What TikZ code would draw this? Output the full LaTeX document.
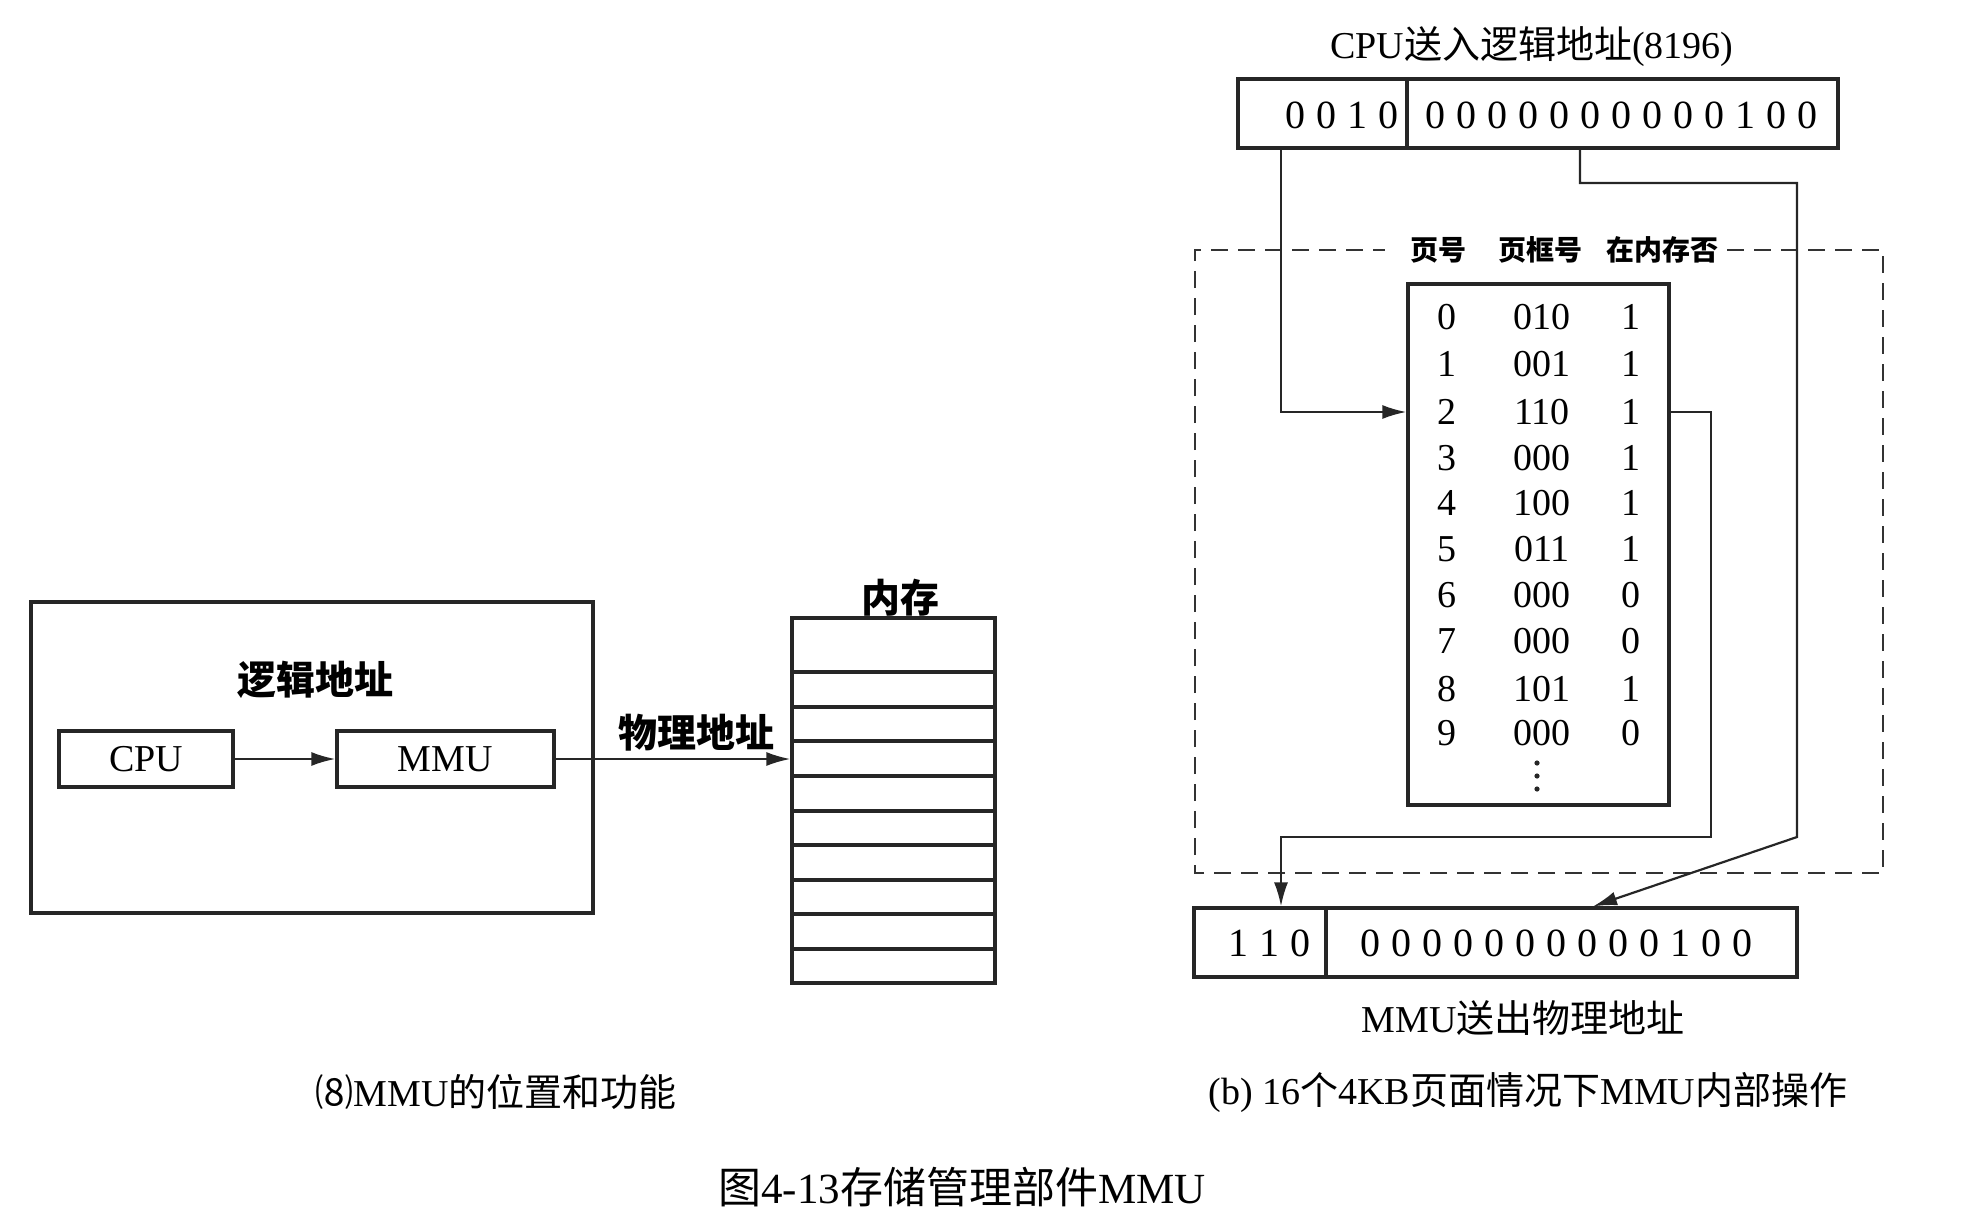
\documentclass[tikz,border=0pt]{standalone}
\usepackage{fontspec}
\setmainfont{Liberation Serif}
\newfontfamily\cjk{Noto Sans CJK SC}
\usetikzlibrary{arrows.meta}

\begin{document}
\begin{tikzpicture}[x=0.5pt,y=-0.5pt,
  box/.style={draw=black!85, line width=1.6pt, inner sep=0pt},
  conn/.style={draw=black!85, line width=1.1pt},
  arr/.style={conn, -{Latex[length=12pt,width=7pt]}},
  dashbox/.style={draw=black!80, line width=1.2pt, dash pattern=on 8.5pt off 5pt},
  txt/.style={inner sep=0pt, font=\fontsize{19}{22}\selectfont},
  boxtxt/.style={box, font=\fontsize{19}{22}\selectfont},
  bold/.style={inner sep=0pt, font=\fontsize{19.5}{22}\selectfont\cjk\bfseries},
  hdr/.style={inner sep=0pt, font=\fontsize{14}{16}\selectfont\cjk\bfseries},
  bits/.style={inner sep=0pt, font={\fontsize{20}{24}\selectfont\spaceskip=5.5pt\relax}},
  cell/.style={inner sep=0pt, font=\fontsize{19}{22}\selectfont},
]
\useasboundingbox (0,0) rectangle (1974,1226);

% ---------- (a) position of the MMU ----------
\node[box, minimum width=281pt, minimum height=155.5pt] (sys) at (312,757.5) {};
\node[bold] (la) at (315,680) {逻辑地址};
\node[boxtxt, minimum width=87pt, minimum height=28pt] (cpu) at (146,759) {CPU};
\node[boxtxt, minimum width=108.5pt, minimum height=28pt] (mmu) at (445.5,759) {MMU};

\node[box, minimum width=101.5pt, minimum height=182.5pt] (mem) at (893.5,800.5) {};
\foreach \y in {672,707,741,776,811,845,880,914,949}
  \draw[draw=black!85, line width=1.6pt] (792,\y) -- (995,\y);
\node[bold] (memlbl) at (900,598) {内存};

\draw[arr] (cpu.east) -- (mmu.west);
\draw[arr] (mmu.east) -- (mem.west |- mmu.east);
\node[bold] (pa) at (696,733) {物理地址};

\node[txt] (capa) at (496,1092) {{\cjk ⑻}MMU{\cjk 的位置和功能}};

% ---------- (b) page table lookup ----------
\node[txt] (ltitle) at (1532,47) {CPU{\cjk 送入逻辑地址}(8196)};
\node[box, minimum width=84.5pt, minimum height=34.5pt] (lpg) at (1322.5,113.5) {};
\node[box, minimum width=215.5pt, minimum height=34.5pt] (loff) at (1622.5,113.5) {};
\node[bits] (lpgt) at (1342,115) {0 0 1 0};
\node[bits] (lofft) at (1621,115) {0 0 0 0 0 0 0 0 0 0 1 0 0};

% dashed MMU outline with column headings
\draw[dashbox] (1727,250) -- (1883,250) -- (1883,873) -- (1195,873) -- (1195,250) -- (1385,250);
\node[hdr] (h1) at (1438,250) {页号};
\node[hdr] (h2) at (1540,250) {页框号};
\node[hdr] (h3) at (1662,250) {在内存否};

% page table
\node[box, minimum width=130.5pt, minimum height=260.5pt] (tbl) at (1538.5,544.5) {};
\foreach \i/\f/\p/\y in {0/010/1/317, 1/001/1/364, 2/110/1/412, 3/000/1/458,
    4/100/1/503, 5/011/1/549, 6/000/0/595, 7/000/0/641, 8/101/1/689, 9/000/0/733} {
  \node[cell] (pn\i) at (1447,\y) {\i};
  \node[cell] (fn\i) at (1542,\y) {\f};
  \node[cell] (in\i) at (1631,\y) {\p};
}
% continuation dots below the last listed row
\foreach \y in {763,776,789}
  \fill[black!85] (1537,\y) circle[radius=1.3pt];

% physical address
\node[box, minimum width=66pt, minimum height=34.5pt] (ppg) at (1260,942.5) {};
\node[box, minimum width=235.5pt, minimum height=34.5pt] (poff) at (1561.5,942.5) {};
\node[bits] (ppgt) at (1269,943) {1 1 0};
\node[bits] (pofft) at (1556,943) {0 0 0 0 0 0 0 0 0 0 1 0 0};
\node[txt] (ptitle) at (1523,1018) {MMU{\cjk 送出物理地址}};

\node[txt] (capb) at (1528,1092) {(b) 16{\cjk 个}4KB{\cjk 页面情况下}MMU{\cjk 内部操作}};

% wiring
\coordinate (xa) at (1281,0);
\coordinate (xb) at (1580,0);
\coordinate (xc) at (1797,0);
\coordinate (xd) at (1711,0);
\coordinate (xf) at (1593,0);
\coordinate (yb) at (0,183);
\coordinate (ye) at (0,837);

\draw[arr] (lpg.south -| xa) |- (tbl.west |- pn2);
\draw[arr] (loff.south -| xb) -- (xb |- yb) -- (xc |- yb) -- (xc |- ye) -- (poff.north -| xf);
\draw[arr] (tbl.east |- pn2) -- (xd |- pn2) -- (xd |- ye) -- (xa |- ye) -- (ppg.north -| xa);

% figure caption
\node[inner sep=0pt, font=\fontsize{21.5}{25}\selectfont] (fig) at (962,1187) {{\cjk 图}4-13{\cjk 存储管理部件}MMU};
\end{tikzpicture}
\end{document}
